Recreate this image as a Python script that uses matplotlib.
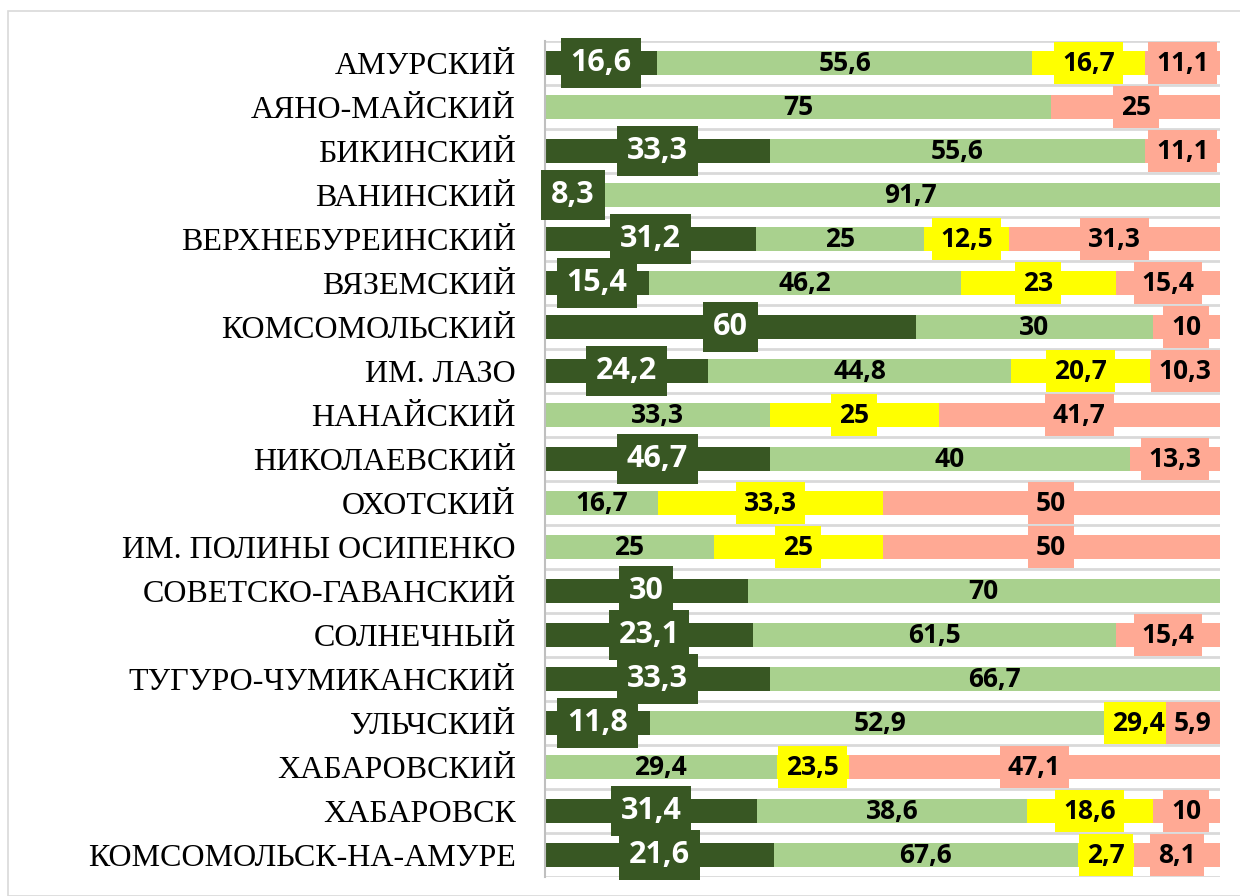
import matplotlib
matplotlib.use("Agg")
import matplotlib.pyplot as plt
from matplotlib.patches import Rectangle
import numpy as np

categories = ["АМУРСКИЙ", "АЯНО-МАЙСКИЙ", "БИКИНСКИЙ", "ВАНИНСКИЙ", "ВЕРХНЕБУРЕИНСКИЙ",
              "ВЯЗЕМСКИЙ", "КОМСОМОЛЬСКИЙ", "ИМ. ЛАЗО", "НАНАЙСКИЙ", "НИКОЛАЕВСКИЙ",
              "ОХОТСКИЙ", "ИМ. ПОЛИНЫ ОСИПЕНКО", "СОВЕТСКО-ГАВАНСКИЙ", "СОЛНЕЧНЫЙ",
              "ТУГУРО-ЧУМИКАНСКИЙ", "УЛЬЧСКИЙ", "ХАБАРОВСКИЙ", "ХАБАРОВСК",
              "КОМСОМОЛЬСК-НА-АМУРЕ"]

# bar lengths (as drawn in the reference)
bar1 = [16.6, 0, 33.3, 8.3, 31.2, 15.4, 55.0, 24.2, 0, 33.3, 0, 0, 30, 30.8, 33.3, 15.6, 0, 31.4, 33.9]
bar2 = [55.6, 75, 55.6, 91.7, 25, 46.2, 35.0, 44.8, 33.3, 53.4, 16.7, 25, 70, 53.8, 66.7, 68.1, 34.3, 40.0, 45.0]
bar3 = [16.7, 0, 0, 0, 12.5, 23, 0, 20.7, 25, 0, 33.3, 25, 0, 0, 0, 8.3, 10.7, 18.6, 8.4]
bar4 = [11.1, 25, 11.1, 0, 31.3, 15.4, 10, 10.3, 41.7, 13.3, 50, 50, 0, 15.4, 0, 8.0, 55.0, 10, 12.7]

# data labels (as printed in the reference)
label1 = [16.6, 0, 33.3, 8.3, 31.2, 15.4, 60, 24.2, 0, 46.7, 0, 0, 30, 23.1, 33.3, 11.8, 0, 31.4, 21.6]
label2 = [55.6, 75, 55.6, 91.7, 25, 46.2, 30, 44.8, 33.3, 40, 16.7, 25, 70, 61.5, 66.7, 52.9, 29.4, 38.6, 67.6]
label3 = [16.7, 0, 0, 0, 12.5, 23, 0, 20.7, 25, 0, 33.3, 25, 0, 0, 0, 29.4, 23.5, 18.6, 2.7]
label4 = [11.1, 25, 11.1, 0, 31.3, 15.4, 10, 10.3, 41.7, 13.3, 50, 50, 0, 15.4, 0, 5.9, 47.1, 10, 8.1]

colors = ["#385723", "#A9D18E", "#FFFF00", "#FFA994"]
text_colors = ["white", "black", "black", "black"]
label_sizes = [22, 19, 19, 19]
box_pads = [0.32, None, 0.3, 0.3]

num_font = ["Open Sans", "DejaVu Sans"]

fig = plt.figure(figsize=(12.4, 8.96), dpi=100)
ax = fig.add_axes([545/1240, 1-877/896, (1220-545)/1240, (877-41)/896])

# figure border
fig.patches.append(Rectangle((8/1240, 0), 1.2, 1-11/896, transform=fig.transFigure,
                             fill=False, edgecolor="#d9d9d9", lw=1.2, zorder=0))

y = np.arange(len(categories))
left = np.zeros(len(categories))
bars = [bar1, bar2, bar3, bar4]
labels = [label1, label2, label3, label4]
for s in range(4):
    vals = np.array(bars[s], dtype=float)
    ax.barh(y, vals, left=left, height=0.55, color=colors[s], zorder=2)
    for i, v in enumerate(vals):
        if v <= 0:
            continue
        lab = ("%g" % labels[s][i]).replace(".", ",")
        kw = dict(ha="center", va="center", color=text_colors[s], fontsize=label_sizes[s],
                  fontweight="bold", family=num_font, zorder=5 + s)
        if box_pads[s] is not None:
            kw["bbox"] = dict(boxstyle="square,pad=%g" % box_pads[s], facecolor=colors[s],
                              edgecolor="none")
        ax.text(left[i] + v / 2, i, lab, **kw)
    left = left + vals

ax.set_xlim(0, 100)
ax.set_ylim(len(categories) - 0.5, -0.5)
ax.set_yticks(y)
ax.set_yticklabels(categories, family=["Liberation Serif", "DejaVu Serif"], fontsize=23)
ax.tick_params(axis="y", length=0, pad=21)
ax.set_yticks(np.arange(len(categories) + 1) - 0.5, minor=True)
ax.tick_params(axis="y", which="minor", length=0)
ax.grid(True, axis="y", which="minor", color="#d9d9d9", lw=2, zorder=0)
ax.set_xticks([])
for sp in ["top", "right", "bottom"]:
    ax.spines[sp].set_visible(False)
ax.spines["left"].set_color("#bfbfbf")
ax.spines["left"].set_linewidth(1.5)
ax.set_axisbelow(True)

fig.savefig("out.png", dpi=100)
